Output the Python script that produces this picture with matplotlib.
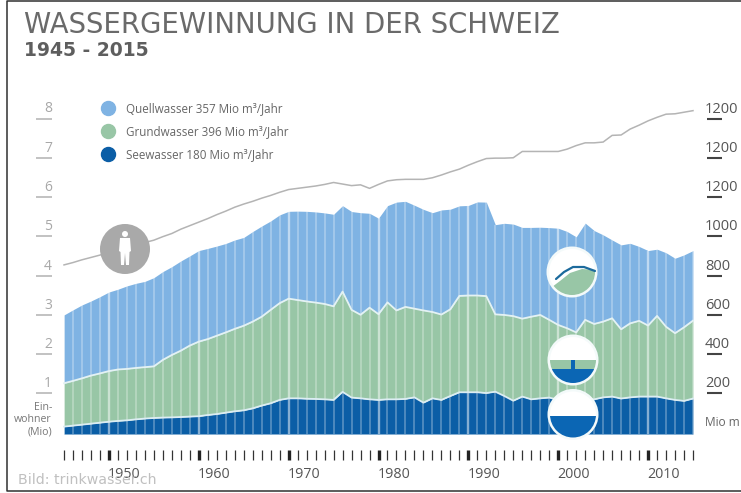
import numpy as np
import matplotlib.pyplot as plt
from matplotlib.lines import Line2D
from matplotlib.patches import Circle, Polygon, Rectangle
from matplotlib.transforms import ScaledTranslation

plt.rcParams['font.family'] = ['Open Sans', 'DejaVu Sans']

# -----------------------------------
# Data, one value per year from 1945 to 2015
years = np.arange(1945, 2016)

seewasser = [30, 35, 40, 45, 50, 55, 59, 62, 67, 71, 74, 76, 77, 79, 81, 83, 89, 94,
             101, 108, 113, 123, 137, 149, 166, 174, 174, 172, 171, 169, 166, 207, 178,
             174, 169, 166, 169, 169, 171, 179, 152, 174, 166, 186, 205, 205, 205, 201,
             208, 186, 162, 183, 169, 174, 178, 166, 157, 157, 166, 169, 179, 183, 173,
             179, 183, 183, 183, 174, 166, 161, 173]
grundwasser = [221, 228, 236, 245, 251, 258, 262, 262, 262, 262, 263, 294, 318, 338, 362,
               380, 387, 399, 409, 420, 431, 442, 453, 476, 493, 508, 501, 496, 491, 486,
               477, 511, 447, 426, 467, 437, 494, 453, 469, 452, 470, 440, 435, 442, 491,
               493, 493, 494, 394, 413, 431, 397, 421, 425, 396, 382, 374, 353, 408, 384,
               386, 399, 353, 377, 386, 362, 411, 365, 340, 375, 397]
quellwasser = [348, 362, 374, 380, 391, 403, 409, 423, 431, 437, 452, 450, 450, 457, 457,
               464, 462, 457, 453, 453, 450, 459, 462, 453, 450, 445, 453, 459, 462, 464,
               469, 438, 501, 520, 481, 489, 493, 552, 538, 527, 515, 506, 533, 510, 459,
               459, 477, 479, 457, 467, 469, 465, 455, 447, 470, 493, 493, 487, 493, 476,
               442, 399, 430, 408, 379, 382, 340, 377, 382, 369, 357]
einwohner = [4.27, 4.33, 4.40, 4.46, 4.52, 4.60, 4.67, 4.73, 4.79, 4.84, 4.90, 4.99, 5.07,
             5.18, 5.27, 5.36, 5.45, 5.55, 5.64, 5.74, 5.82, 5.89, 5.97, 6.04, 6.12, 6.19,
             6.22, 6.25, 6.28, 6.32, 6.37, 6.33, 6.29, 6.31, 6.22, 6.32, 6.41, 6.44, 6.45,
             6.45, 6.45, 6.49, 6.56, 6.64, 6.71, 6.81, 6.90, 6.98, 6.99, 6.99, 7.00, 7.16,
             7.16, 7.16, 7.16, 7.16, 7.22, 7.31, 7.38, 7.38, 7.40, 7.57, 7.58, 7.73, 7.83,
             7.94, 8.03, 8.11, 8.12, 8.16, 8.20]

decades = [1950, 1960, 1970, 1980, 1990, 2000, 2010]
left_ticks = [1, 2, 3, 4, 5, 6, 7, 8]
right_ticks = [200, 400, 600, 800, 1000, 1200, 1400, 1600]
right_labels = ['200', '400', '600', '800', '1000', '1200', '1200', '1200']
legend_labels = ['Quellwasser 357 Mio m³/Jahr', 'Grundwasser 396 Mio m³/Jahr', 'Seewasser 180 Mio m³/Jahr']

BLUE = '#7fb3e3'
GREEN = '#98c6a6'
DARK = '#0b5ea6'
W, H = 741, 493
PX = 72 / 100  # one pixel in points

# -----------------------------------
fig = plt.figure(figsize=(W / 100, H / 100), dpi=100, facecolor='white')

# axes run from x=36 to x=722, y=96 to y=434 in pixels of the picture
ax = fig.add_axes([36 / W, 1 - 434 / H, (722 - 36) / W, (434 - 96) / H])
px_per_year = (693 - 64) / 70
ax.set_xlim(1945 - (64 - 36) / px_per_year, 2015 + (722 - 693) / px_per_year)
unit = 39.25
ylim = (-1.5 / unit, (432.5 - 96) / unit)
ax.set_ylim(ylim)
ax.patch.set_visible(False)
for s in ax.spines.values():
    s.set_visible(False)

ax2 = ax.twinx()
ax2.set_ylim(ylim[0] * 200, ylim[1] * 200)
for s in ax2.spines.values():
    s.set_visible(False)

# Stacked areas
base = ylim[0] * 200
top1 = np.array(seewasser, dtype=float)
top2 = top1 + np.array(grundwasser)
top3 = top2 + np.array(quellwasser)
ax2.fill_between(years, base, top1, color=DARK, lw=0)
ax2.fill_between(years, top1, top2, color=GREEN, lw=0)
ax2.fill_between(years, top2, top3, color=BLUE, lw=0)

# year stripes, a bit wider on the decades
is_decade = np.isin(years, decades)
ax2.vlines(years[~is_decade], base, top3[~is_decade], color='white', lw=1.1, alpha=0.35)
ax2.vlines(years[is_decade], base, top3[is_decade], color='white', lw=1.7, alpha=0.5)
ax2.plot(years, top1, color='#dcedf3', lw=1.3)
ax2.plot(years, top2, color='#e4f2f3', lw=1.3)

# Population
ax.plot(years, einwohner, color='#b4b4b4', lw=1.1, zorder=5)

up = ScaledTranslation(0, 2 * PX / 72, fig.dpi_scale_trans)

# Left ticks
ax.tick_params(axis='y', direction='in', length=16 * PX, width=1.3, color='#bdbdbd', pad=-12 * PX,
               labelsize=10, labelcolor='#a8a8a8')
ax.set_yticks(left_ticks, [str(v) for v in left_ticks], va='bottom', ha='center')
for lab in ax.get_yticklabels():
    lab.set_transform(lab.get_transform() + up)

# Right ticks
ax2.tick_params(axis='y', direction='in', length=15 * PX, width=1.5, color='#444444', pad=-17 * PX,
                labelsize=10.5, labelcolor='#555555')
ax2.set_yticks(right_ticks, right_labels, va='bottom', ha='left')
for lab in ax2.get_yticklabels():
    lab.set_transform(lab.get_transform() + up)

# Year ticks
ax.spines['bottom'].set_position(('outward', 16 * PX))
ax.set_xticks(decades)
ax.set_xticks(years[~is_decade], minor=True)
ax.tick_params(axis='x', which='minor', length=10 * PX, width=0.9, color='#333333')
ax.tick_params(axis='x', which='major', length=10 * PX, width=2.4, color='#222222', pad=7 * PX,
               labelsize=10.3, labelcolor='#555555')
offset = ScaledTranslation(15.5 * PX / 72, 0, fig.dpi_scale_trans)
for lab in ax.get_xticklabels():
    lab.set_transform(lab.get_transform() + offset)

# Titles and notes
fig.text(24 / W, 1 - 33 / H, 'WASSERGEWINNUNG IN DER SCHWEIZ', fontsize=19.8, color='#6a6a6a', va='baseline',
         family=['DejaVu Sans'])
fig.text(24 / W, 1 - 56 / H, '1945 - 2015', fontsize=13.5, fontweight='bold', color='#5e5e5e', va='baseline',
         family=['DejaVu Sans'])
for y_px, txt in zip([407, 419, 432], ['Ein-', 'wohner', '(Mio)']):
    fig.text(52 / W, 1 - y_px / H, txt, fontsize=7.6, color='#777777', ha='right', va='center')
fig.text(705 / W, 1 - 423 / H, 'Mio m', fontsize=8.6, color='#666666', va='center')
fig.text(18 / W, 1 - 480 / H, 'Bild: trinkwasser.ch', fontsize=10.2, color='#c0c0c0', va='center',
         family=['DejaVu Sans'])

# Legend
handles = [Line2D([], [], ls='', marker='o', ms=14 * PX, color=c) for c in [BLUE, GREEN, DARK]]
leg = fig.legend(handles, legend_labels, loc='upper left', bbox_to_anchor=(96.3 / W, 1 - 101.7 / H), frameon=False,
                 fontsize=8.4, labelcolor='#666666', labelspacing=0.88, handletextpad=0.55, borderpad=0,
                 borderaxespad=0)
leg.set_zorder(10)

# Overlay in picture pixels for the round icons and the frame
ov = fig.add_axes([0, 0, 1, 1], zorder=5)
ov.set_xlim(0, W)
ov.set_ylim(H, 0)
ov.axis('off')


def icon(cx, cy, r=25.5, ring=2.5):
    ov.add_patch(Circle((cx, cy), r, color='#f4fafa', lw=0))
    inner = Circle((cx, cy), r - ring, color='white', lw=0)
    ov.add_patch(inner)
    return inner


def clipped(shape, inner):
    ov.add_patch(shape)
    shape.set_clip_path(inner)


# person
ov.add_patch(Circle((125, 249), 25, color='#a9a9a9', lw=0))
ov.add_patch(Circle((125, 234), 3, color='white', lw=0))
ov.add_patch(Polygon([(120, 238), (130, 238), (131, 251), (129.5, 252), (129, 265), (126, 265), (125, 253),
                      (124, 265), (121, 265), (120.5, 252), (119, 251)], closed=True, color='white', lw=0))

# spring
c = icon(572, 272)
clipped(Polygon([(552, 287), (560, 281), (570, 273), (582, 269), (596, 270), (596, 300), (552, 300)],
                closed=True, color=GREEN, lw=0), c)
ov.plot([556, 564, 573, 584, 595], [279, 272, 267, 267, 271], color='#1c6a9c', lw=1.6,
        solid_capstyle='round')

# ground water
c = icon(573, 360)
clipped(Rectangle((545, 360), 56, 9, color=GREEN, lw=0), c)
clipped(Rectangle((545, 369), 56, 20, color='#0b66b4', lw=0), c)
ov.add_patch(Rectangle((571, 360), 4, 9, color='#0b66b4', lw=0))

# lake
c = icon(573, 414.5)
clipped(Rectangle((545, 416), 56, 24, color='#0b66b4', lw=0), c)

# frame of the picture
ov.plot([741, 7, 7, 741], [1, 1, 490.5, 490.5], color='#303030', lw=1.1, clip_on=False)

fig.savefig('out.png', dpi=100)
